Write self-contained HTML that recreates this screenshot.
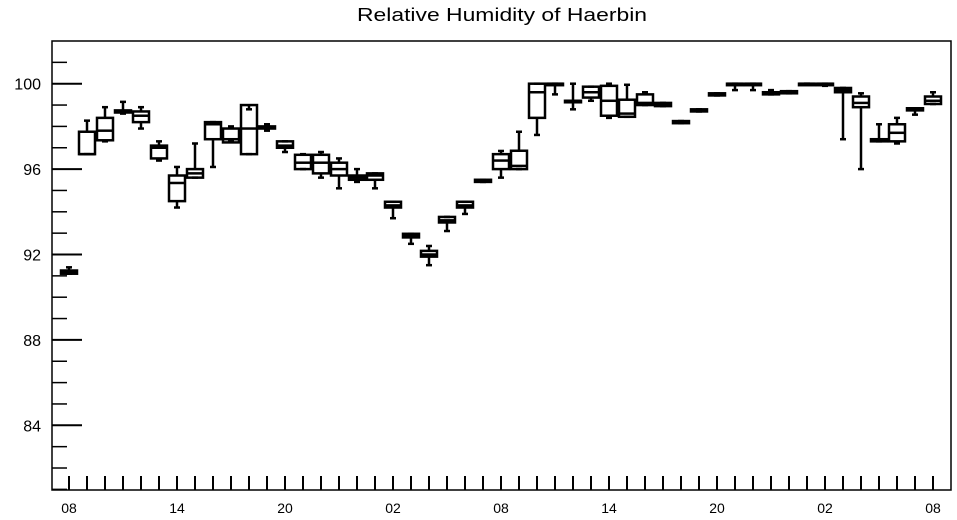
<!DOCTYPE html>
<html><head><meta charset="utf-8"><style>
html,body{margin:0;padding:0;background:#fff;}
svg{display:block;font-family:"Liberation Sans",sans-serif;}
</style></head><body>
<svg id="chart" width="957" height="520" viewBox="0 0 957 520" xmlns="http://www.w3.org/2000/svg">
<text x="502" y="21" text-anchor="middle" font-size="18" textLength="290" lengthAdjust="spacingAndGlyphs">Relative Humidity of Haerbin</text>
<g id="axes"></g>
<g id="boxes"></g>
</svg>
<script>
// [min, q1, median, q3, max] per hour starting 08
const mins = [91.1,96.7,97.3,98.6,97.9,96.4,94.2,95.6,96.1,97.3,96.7,97.8,96.8,96.0,95.6,95.1,95.4,95.1,93.7,92.5,91.5,93.1,93.9,95.4,95.6,96.0,97.6,99.5,98.8,99.2,98.4,98.45,99.0,98.95,98.15,98.7,99.45,99.7,99.7,99.5,99.55,100,99.9,97.4,96.0,97.3,97.2,98.55,99.05];
const q1s = [91.1,96.7,97.35,98.65,98.2,96.5,94.5,95.6,97.4,97.25,96.7,97.9,97.0,96.0,95.8,95.7,95.5,95.5,94.2,92.8,91.9,93.5,94.2,95.4,96.0,96.0,98.4,99.95,99.2,99.35,98.5,98.45,99.0,98.95,98.15,98.7,99.45,99.95,99.95,99.5,99.55,99.97,99.95,99.6,98.9,97.3,97.3,98.75,99.05];
const meds = [91.15,96.7,97.8,98.7,98.5,97.0,95.35,95.8,98.1,97.4,97.9,97.95,97.1,96.3,96.3,96.0,95.6,95.7,94.3,92.9,92.0,93.6,94.3,95.45,96.4,96.15,99.6,100,99.2,99.6,99.2,98.6,99.1,99.0,98.2,98.75,99.5,100,100,99.55,99.6,100,100,99.7,99.1,97.35,97.7,98.8,99.2];
const q3s = [91.25,97.75,98.4,98.75,98.7,97.1,95.7,96.0,98.2,97.9,99.0,98.0,97.3,96.67,96.67,96.3,95.7,95.8,94.47,92.97,92.17,93.76,94.47,95.5,96.7,96.86,100,100,99.2,99.86,99.9,99.25,99.5,99.1,98.25,98.8,99.55,100,100,99.6,99.65,100,100,99.8,99.4,97.4,98.1,98.85,99.4];
const maxs = [91.4,98.27,98.9,99.15,98.9,97.3,96.1,97.2,98.2,98.0,98.8,98.1,97.3,96.7,96.8,96.5,96.0,95.8,94.47,92.97,92.4,93.76,94.47,95.5,96.85,97.75,100,100,100,99.86,100,99.95,99.6,99.1,98.25,98.8,99.55,100,100,99.7,99.65,100,100,99.8,99.55,98.1,98.4,98.85,99.6];
const xTickLabels = ["08","14","20","02","08","14","20","02","08"];
const yTickLabels = [84,88,92,96,100];

const NS="http://www.w3.org/2000/svg";
const L=52,R=951,T=41,B=490,YMIN=80.97,YMAX=102;
function yS(v){return B-(v-YMIN)/(YMAX-YMIN)*(B-T);}
function xS(i){return 69+i*18;}
function mk(tag,attrs,parent){const e=document.createElementNS(NS,tag);for(const k in attrs)e.setAttribute(k,attrs[k]);parent.appendChild(e);return e;}
const axes=document.getElementById('axes'),boxes=document.getElementById('boxes');
const frame=mk('rect',{x:L,y:T,width:R-L,height:B-T,fill:'none',stroke:'#000','stroke-width':1.5},axes);


for(let v=81;v<=101;v++){
  const major=(v%4===0);
  const t=mk('line',{x1:L,x2:L+(major?30:15),y1:yS(v),y2:yS(v),stroke:'#000','stroke-width':major?2:1.5},axes);
  
  
}
yTickLabels.forEach(v=>{
  const t=mk('text',{x:41,y:yS(v)+6,'text-anchor':'end','font-size':16},axes);
  t.textContent=v;
  
  
});
for(let i=0;i<49;i++){
  const t=mk('line',{x1:xS(i),x2:xS(i),y1:B,y2:B-14,stroke:'#000','stroke-width':2},axes);
  
  
}
xTickLabels.forEach((s,k)=>{
  const t=mk('text',{x:xS(k*6),y:513,'text-anchor':'middle','font-size':14},axes);
  t.textContent=s;
  
  
});
for(let i=0;i<meds.length;i++){
  const g=mk('g',{stroke:'#000','stroke-width':2.5,fill:'none'},boxes);
  
  
  const x=xS(i),w=16;
  const yq1=yS(q1s[i]),yq3=yS(q3s[i]);
  mk('line',{x1:x,x2:x,y1:yS(maxs[i]),y2:yq3},g);
  mk('line',{x1:x,x2:x,y1:yq1,y2:yS(mins[i])},g);
  mk('line',{x1:x-3,x2:x+3,y1:yS(maxs[i]),y2:yS(maxs[i])},g);
  mk('line',{x1:x-3,x2:x+3,y1:yS(mins[i]),y2:yS(mins[i])},g);
  mk('rect',{x:x-w/2,y:yq3,width:w,height:Math.max(yq1-yq3,1.5)},g);
  mk('line',{x1:x-w/2,x2:x+w/2,y1:yS(meds[i]),y2:yS(meds[i])},g);
}
</script>
</body></html>
